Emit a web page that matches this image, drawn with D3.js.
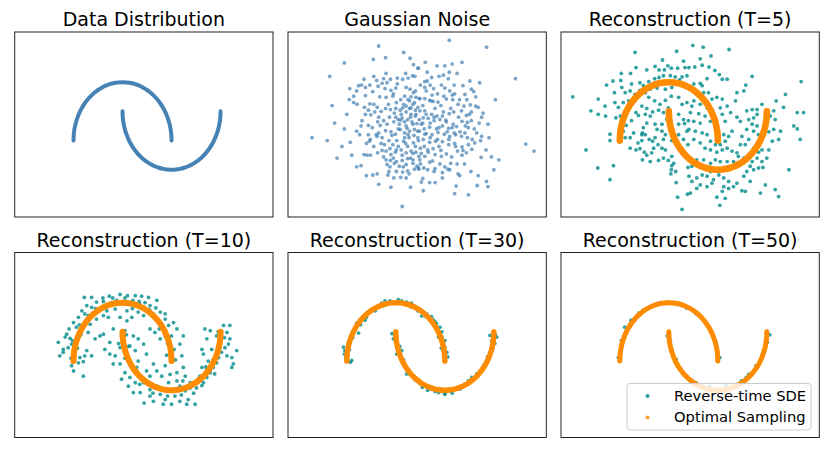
<!DOCTYPE html>
<html><head><meta charset="utf-8">
<script src="https://cdn.jsdelivr.net/npm/d3@7"></script>
<style>body{margin:0;background:#fff}svg{display:block}</style>
</head><body>
<svg id="c" width="830" height="453"></svg>
<script>
// ---- Data (units of the two-moons space) ----
const titles = ["Data Distribution","Gaussian Noise","Reconstruction (T=5)","Reconstruction (T=10)","Reconstruction (T=30)","Reconstruction (T=50)"];
const legendLabels = ["Reverse-time SDE","Optimal Sampling"];

const upperMoonX = [1.000,0.996,0.985,0.966,0.940,0.906,0.866,0.819,0.766,0.707,0.643,0.574,0.500,0.423,0.342,0.259,0.174,0.087,0.000,-0.087,-0.174,-0.259,-0.342,-0.423,-0.500,-0.574,-0.643,-0.707,-0.766,-0.819,-0.866,-0.906,-0.940,-0.966,-0.985,-0.996,-1.000];
const upperMoonY = [0.000,0.087,0.174,0.259,0.342,0.423,0.500,0.574,0.643,0.707,0.766,0.819,0.866,0.906,0.940,0.966,0.985,0.996,1.000,0.996,0.985,0.966,0.940,0.906,0.866,0.819,0.766,0.707,0.643,0.574,0.500,0.423,0.342,0.259,0.174,0.087,0.000];
const lowerMoonX = [0.000,0.004,0.015,0.034,0.060,0.094,0.134,0.181,0.234,0.293,0.357,0.426,0.500,0.577,0.658,0.741,0.826,0.913,1.000,1.087,1.174,1.259,1.342,1.423,1.500,1.574,1.643,1.707,1.766,1.819,1.866,1.906,1.940,1.966,1.985,1.996,2.000];
const lowerMoonY = [0.500,0.413,0.326,0.241,0.158,0.077,0.000,-0.074,-0.143,-0.207,-0.266,-0.319,-0.366,-0.406,-0.440,-0.466,-0.485,-0.496,-0.500,-0.496,-0.485,-0.466,-0.440,-0.406,-0.366,-0.319,-0.266,-0.207,-0.143,-0.074,0.000,0.077,0.158,0.241,0.326,0.413,0.500];

const noisePoints = [[-0.35,1.62],[0.16,1.51],[-0.21,1.42],[-0.46,1.39],[0.29,1.41],[-1.05,1.33],[-1.35,1.10],[-1.71,0.05],[-0.93,-0.03],[0.13,-1.13],[-0.71,-0.43],[-0.47,-0.59],[-0.38,-0.57],[0.36,1.30],[0.45,1.24],[0.34,1.11],[0.39,1.10],[0.25,1.07],[0.14,1.05],[0.03,1.07],[-0.11,1.05],[-0.25,1.06],[-0.39,1.03],[-0.94,0.89],[-0.76,0.94],[-0.70,0.95],[-0.62,0.91],[-0.53,0.95],[-0.36,0.93],[-0.28,0.98],[-0.18,0.99],[-0.22,0.89],[-0.10,0.86],[0.03,0.97],[0.21,0.91],[0.29,0.88],[0.36,0.82],[0.41,0.74],[0.31,0.75],[0.18,0.76],[-0.06,0.76],[-0.20,0.74],[-0.33,0.75],[-0.47,0.84],[-0.62,0.77],[-0.86,0.76],[-0.86,0.65],[-0.79,0.62],[-0.64,0.57],[-0.53,0.63],[-0.38,0.57],[-0.43,0.49],[-0.56,0.52],[-0.51,0.44],[-0.21,0.55],[-0.11,0.53],[0.01,0.65],[0.16,0.62],[0.28,0.68],[0.38,0.65],[0.45,0.57],[0.21,0.49],[0.11,0.45],[-0.03,0.47],[-0.13,0.40],[-0.25,0.34],[-0.37,0.32],[-0.32,0.26],[-0.18,0.28],[-0.04,0.32],[0.05,0.36],[0.18,0.32],[0.30,0.40],[0.41,0.45],[0.35,0.28],[0.23,0.21],[0.09,0.19],[-0.01,0.11],[-0.08,0.09],[-0.21,0.17],[-0.35,0.13],[-0.40,0.10],[-0.56,0.26],[-0.69,0.34],[-0.71,0.25],[-0.80,0.16],[-0.74,0.10],[-0.56,0.10],[-0.52,0.02],[-0.54,-0.01],[-0.38,0.07],[-0.23,-0.07],[-0.14,0.00],[-0.06,-0.07],[0.02,0.00],[0.16,-0.01],[0.27,0.05],[0.37,0.09],[0.45,0.16],[0.46,0.00],[0.36,-0.04],[0.24,-0.10],[0.11,-0.16],[0.01,-0.16],[-0.12,-0.14],[-0.20,-0.18],[-0.10,-0.24],[-0.01,-0.20],[0.13,-0.25],[0.21,-0.21],[0.31,-0.18],[0.41,-0.20],[0.47,-0.27],[0.35,-0.33],[0.24,-0.31],[0.13,-0.34],[0.01,-0.36],[-0.11,-0.34],[-0.20,-0.33],[-0.28,-0.17],[-0.37,-0.21],[-0.18,-0.41],[-0.03,-0.39],[0.07,-0.44],[0.21,-0.41],[0.35,-0.39],[0.43,-0.44],[0.38,-0.49],[0.24,-0.52],[0.14,-0.54],[0.01,-0.53],[-0.14,-0.53],[-0.16,-0.59],[-0.04,-0.64],[0.10,-0.63],[0.21,-0.64],[0.27,-0.57],[-0.65,-0.24],[-0.59,-0.25],[-0.52,-0.25],[0.46,-0.47],[0.14,0.56],[0.21,0.59],[0.31,0.56],[0.40,0.52],[0.09,0.52],[0.13,0.39],[0.24,0.36],[0.33,0.32],[0.43,0.29],[0.28,0.16],[0.18,0.13],[0.38,0.19],[0.48,0.36],[0.07,0.28],[0.21,0.25],[0.31,0.45],
[1.09,1.72],[1.85,1.60],[0.60,1.34],[1.35,1.34],[2.44,1.06],[2.03,0.70],[2.65,-0.06],[2.82,-0.18],[2.10,-0.33],[1.88,0.28],[1.48,-0.93],[1.20,-0.91],[0.56,-0.86],[0.52,-0.71],[0.69,-0.72],[0.80,-0.72],[0.95,-0.64],[1.23,-0.78],[1.66,-0.77],[1.88,-0.79],[1.85,-0.70],[1.68,-0.60],[1.53,-0.53],[1.27,-0.57],[1.06,-0.49],[0.78,-0.53],[0.57,-0.47],[0.47,-0.49],[0.69,-0.37],[0.90,-0.40],[1.12,-0.39],[0.84,1.28],[1.00,1.28],[1.15,1.31],[0.46,1.24],[0.64,1.17],[0.97,1.12],[1.09,1.17],[0.73,1.08],[0.59,1.01],[0.64,1.02],[1.07,1.06],[0.93,0.95],[1.19,0.95],[1.37,0.94],[1.51,1.02],[1.54,0.88],[1.71,0.99],[1.59,0.84],[1.41,0.79],[1.63,0.75],[1.15,0.78],[0.98,0.76],[0.74,0.78],[0.59,0.91],[0.77,0.89],[0.49,0.72],[0.59,0.72],[0.69,0.69],[0.76,0.67],[0.86,0.66],[1.03,0.71],[1.16,0.70],[1.27,0.62],[1.39,0.59],[1.52,0.61],[1.63,0.59],[1.68,0.57],[1.78,0.47],[1.75,0.40],[1.54,0.49],[1.44,0.43],[1.34,0.51],[1.18,0.49],[1.09,0.46],[0.97,0.49],[0.84,0.42],[0.73,0.45],[0.59,0.51],[0.49,0.51],[0.56,0.39],[0.66,0.38],[0.78,0.34],[0.90,0.36],[1.03,0.32],[1.17,0.28],[1.24,0.24],[1.35,0.33],[1.46,0.31],[1.54,0.34],[1.48,0.22],[1.41,0.13],[1.31,0.15],[1.19,0.13],[1.08,0.21],[0.95,0.25],[0.83,0.20],[0.69,0.23],[0.52,0.28],[0.48,0.16],[0.59,0.11],[0.74,0.10],[0.86,0.14],[0.99,0.11],[1.10,0.07],[1.22,0.10],[1.34,0.07],[1.46,0.05],[1.56,0.02],[1.65,0.13],[1.75,0.07],[1.73,0.00],[1.61,-0.04],[1.48,-0.07],[1.35,-0.11],[1.22,-0.10],[1.08,-0.07],[0.95,-0.02],[0.81,-0.01],[0.69,-0.03],[0.56,0.02],[0.50,-0.13],[0.65,-0.16],[0.76,-0.14],[0.92,-0.17],[1.03,-0.23],[1.14,-0.28],[1.26,-0.18],[1.37,-0.17],[1.44,-0.21],[0.93,-0.27],[0.80,-0.24],[0.59,-0.27],[0.49,-0.33],[1.84,-0.16],[1.95,-0.28],[1.74,-0.29],
[-0.45,0.62],[-0.30,0.50],[-0.15,0.62],[0.00,0.40],[0.10,0.70],[0.25,0.10],[0.40,-0.10],[0.55,0.60],[0.62,0.45],[0.70,0.05],[0.80,0.55],[0.88,0.22],[0.95,0.42],[1.05,0.15],[1.12,0.55],[1.20,-0.05],[1.28,0.40],[1.35,-0.25],[1.42,0.25],[0.58,-0.10],[0.66,-0.20],[0.75,-0.35],[0.88,-0.10],[1.00,-0.45],[0.62,0.85],[0.70,0.95],[0.85,0.80],[1.00,0.90],[1.10,0.85],[0.55,0.30],[0.45,0.05],[0.35,-0.22],[0.20,-0.05],[0.05,0.20],[-0.10,0.15],[-0.30,-0.05],[-0.45,-0.10],[-0.60,-0.05],[-0.25,-0.28],[-0.05,-0.30],[0.15,-0.45],[0.30,-0.30],[0.50,-0.40],[0.65,-0.50],[0.80,-0.48],[0.95,-0.55],[1.10,-0.50],[1.25,-0.40],[1.40,-0.40],[1.55,-0.15],[1.60,0.20],[1.50,0.45],[1.30,0.70],[1.20,0.80],[0.50,0.95],[0.40,0.85],[0.20,1.15],[0.00,0.90],[-0.20,1.15],[-0.45,1.10],[-0.65,1.05],[-0.80,0.85],[-0.95,0.70],[-1.00,0.45],[-1.05,0.20],[-1.10,-0.10],[-0.90,-0.25],[-0.80,-0.45],[-0.60,-0.60],[-0.35,-0.75],[-0.10,-0.80],[0.30,-0.80],[0.55,-0.65],[0.00,0.55],[0.10,0.35],[0.25,0.70],[0.35,0.62],[0.48,0.72],[0.58,0.20],[0.70,0.30],[0.78,0.40],[0.92,0.60],[1.02,0.35],[1.08,0.02],[1.15,0.22],[0.85,0.02],[0.62,0.12],[0.52,-0.22],[0.40,0.42],[0.28,0.55],[-0.05,0.80],[-0.35,0.40],[-0.48,0.22],[-0.62,0.45],[-0.28,0.05],[-0.12,-0.45],[0.05,-0.10],[0.18,0.05],[1.45,0.70],[1.70,0.30],[1.90,0.05],[2.00,-0.50],[1.30,-0.60],[-1.30,0.60],[-1.25,0.30],[-1.40,0.00],[-1.20,-0.30],[0.88,1.10],[1.25,1.15],[0.72,0.68]];

const t5Points = [[-0.69,1.51],[0.16,1.53],[-0.13,1.38],[0.30,1.36],[-0.02,1.28],[-0.67,1.25],[-0.45,1.21],[-0.28,1.27],[-0.20,1.21],[-0.09,1.21],[0.05,1.24],[0.18,1.24],[0.33,1.25],[-0.97,1.15],[-0.78,1.15],[-1.14,1.02],[-1.27,0.95],[-0.98,1.03],[-0.76,0.97],[-0.59,0.99],[-0.52,0.94],[-0.41,1.01],[-0.29,1.06],[-0.20,1.08],[-0.11,1.11],[0.03,1.11],[0.13,1.09],[0.27,1.09],[0.37,1.11],[0.22,1.04],[0.33,0.97],[0.06,0.91],[-0.07,0.88],[-0.24,0.90],[-0.38,0.88],[-0.48,0.82],[-0.59,0.86],[-0.69,0.79],[-0.79,0.85],[-0.89,0.82],[-0.96,0.91],[-1.11,0.82],[-1.44,0.71],[-1.10,0.65],[-0.93,0.65],[-1.03,0.57],[-1.30,0.59],[-1.59,0.51],[-1.44,0.45],[-1.29,0.42],[-1.08,0.39],[-0.99,0.42],[-0.82,0.68],[-0.41,0.74],[-0.29,0.68],[-0.18,0.62],[-0.07,0.69],[0.05,0.76],[0.20,0.74],[0.27,0.62],[0.37,0.65],[-0.01,0.56],[-0.11,0.48],[-0.21,0.52],[-0.33,0.49],[-0.45,0.55],[-0.55,0.59],[-0.67,0.48],[-0.62,0.43],[-0.48,0.45],[-0.38,0.42],[-0.28,0.28],[-0.14,0.28],[-0.04,0.36],[0.20,0.45],[0.30,0.36],[0.40,0.34],[0.20,0.28],[0.32,0.29],[0.37,0.16],[-1.96,0.75],[-0.87,0.26],[-0.93,0.16],[-0.76,0.34],[-0.45,0.30],[-0.52,0.22],[-0.54,0.13],[-0.48,0.10],[-0.40,0.02],[-0.28,0.05],[-0.14,0.16],[-0.24,0.19],[-0.07,0.10],[0.06,0.19],[0.20,0.10],[0.30,0.02],[0.39,-0.07],[0.20,-0.07],[0.06,0.00],[-0.11,0.02],[-0.22,-0.07],[-0.33,-0.01],[-0.55,0.00],[-0.63,-0.04],[-0.79,0.05],[-0.89,0.05],[-1.20,0.11],[-1.20,0.00],[-0.99,0.00],[-0.79,-0.13],[-0.67,-0.16],[-0.59,-0.14],[-0.50,-0.20],[-0.45,-0.25],[-0.54,-0.33],[-0.38,-0.36],[-0.21,-0.34],[-0.11,-0.30],[-0.01,-0.34],[0.10,-0.39],[0.06,-0.27],[-0.07,-0.16],[-0.14,-0.13],[-0.31,-0.13],[-0.35,-0.21],[-1.69,-0.16],[-1.45,-0.47],[-1.13,-0.43],[-1.20,-0.67],[0.06,-0.43],[0.05,-0.50],[0.04,-0.57],[0.14,-0.53],[0.15,-0.72],[0.39,-0.46],[0.18,-0.97],[0.38,-0.92],[0.27,-1.18],[-0.55,0.10],[-0.72,0.13],
[0.49,1.63],[0.70,1.60],[1.23,1.56],[0.86,1.45],[0.64,1.40],[0.68,1.29],[0.53,1.26],[0.82,1.26],[0.41,1.25],[0.94,1.20],[1.03,1.13],[1.09,1.05],[1.19,1.05],[0.78,1.06],[0.64,0.98],[0.51,0.97],[0.44,0.88],[0.68,0.94],[0.71,0.82],[0.57,0.79],[0.51,0.68],[0.81,0.82],[0.88,0.71],[0.98,0.74],[1.09,0.71],[1.70,1.10],[1.57,0.95],[1.39,0.82],[1.53,0.85],[1.36,0.68],[1.19,0.59],[1.05,0.56],[0.88,0.53],[0.78,0.56],[0.64,0.62],[0.47,0.59],[0.44,0.48],[0.61,0.46],[0.74,0.42],[0.51,0.33],[0.64,0.30],[0.85,0.33],[1.09,0.45],[1.26,0.48],[1.15,0.33],[1.39,0.40],[1.46,0.33],[1.29,0.16],[1.22,0.07],[1.12,0.10],[1.15,-0.01],[1.05,-0.07],[0.95,-0.07],[0.85,-0.01],[0.78,0.10],[0.68,0.13],[0.54,0.16],[0.41,0.19],[0.51,0.02],[0.64,-0.04],[0.74,-0.13],[0.85,-0.16],[0.98,-0.20],[1.09,-0.16],[1.19,-0.13],[1.29,-0.18],[1.39,-0.21],[1.46,-0.07],[1.56,-0.07],[1.49,0.07],[1.63,0.02],[1.73,-0.13],[1.83,-0.20],[1.90,-0.16],[2.04,-0.16],[2.00,-0.30],[1.90,-0.36],[1.80,-0.30],[1.70,-0.36],[1.63,-0.27],[1.53,-0.30],[1.42,-0.27],[1.32,-0.36],[1.19,-0.36],[1.05,-0.36],[0.95,-0.33],[0.85,-0.39],[0.71,-0.33],[0.57,-0.33],[0.44,-0.30],[0.47,-0.44],[0.41,-0.61],[0.47,-0.70],[0.57,-0.64],[0.68,-0.59],[0.78,-0.61],[0.85,-0.53],[0.91,-0.67],[1.02,-0.59],[1.12,-0.64],[1.22,-0.70],[1.12,-0.79],[1.22,-0.82],[1.09,-0.87],[0.98,-0.97],[1.15,-0.99],[1.04,-1.11],[0.88,-0.73],[0.78,-0.79],[0.64,-0.76],[0.57,-0.82],[0.44,-0.90],[1.32,-0.79],[1.49,-0.86],[1.56,-0.87],[1.39,-0.73],[1.53,-0.61],[1.66,-0.70],[1.59,-0.53],[1.73,-0.50],[1.83,-0.47],[1.92,-0.46],[1.66,-0.44],[1.97,-0.76],[1.87,-0.90],[2.17,-0.84],[2.24,-0.96],[2.45,-0.50],[2.70,1.01],[2.38,0.79],[2.19,0.68],[2.34,0.57],[2.14,0.51],[2.62,0.48],[2.75,0.48],[2.07,0.42],[2.17,0.36],[2.28,0.16],[2.24,0.02],[2.11,-0.01],[2.14,0.19],[2.04,0.15],[2.55,0.25],[2.62,0.20],[2.68,0.02],[1.90,0.62],[1.80,0.53],[1.80,0.45],[1.73,0.39],[1.70,0.28],[1.80,0.25],[1.73,0.16],[1.83,0.10],[1.94,0.13],[1.63,0.36],[1.59,0.51],[1.70,0.53],[1.59,0.19]];

const t10Points = [[-0.78,1.09],[-0.63,1.09],[-0.27,1.11],[-0.05,1.14],[0.10,1.12],[0.26,1.12],[0.39,1.11],[0.53,1.09],[0.70,1.04],[-0.53,1.01],[-0.39,1.02],[-0.22,1.00],[-0.12,1.04],[0.21,1.04],[0.34,1.02],[0.46,1.00],[0.56,0.95],[0.68,0.91],[0.77,0.84],[0.87,0.81],[-0.73,0.95],[-0.63,0.92],[-0.83,0.86],[-0.77,0.81],[-0.90,0.75],[-1.00,0.66],[-0.94,0.58],[-1.09,0.55],[-1.14,0.46],[-1.17,0.41],[-1.07,0.39],[-1.04,0.29],[-1.11,0.23],[-1.21,0.15],[-1.28,0.09],[-1.21,0.20],[-1.00,-0.17],[-0.80,-0.26],[-0.90,-0.03],[-0.80,-0.01],[-0.73,0.18],[-0.63,0.09],[-0.56,0.38],[-0.46,0.43],[-0.39,0.46],[-0.19,0.55],[0.09,0.69],[0.19,0.75],[0.32,0.84],[-0.05,0.75],[-0.29,0.75],[-0.39,0.78],[-0.53,0.72],[-0.66,0.63],[-0.70,0.49],[0.09,0.86],[-0.15,0.89],[-0.32,0.86],[-0.46,0.89],[0.29,0.95],[0.43,0.78],[0.63,0.81],[0.77,0.66],[0.87,0.72],[0.56,0.55],[0.66,0.49],[0.77,0.38],[0.87,0.43],[1.00,0.43],[1.11,0.55],[1.04,0.66],[0.94,0.61],[1.24,0.43],[1.17,0.29],[0.97,0.23],[1.21,0.09],[1.24,-0.11],[1.11,-0.20],[0.87,-0.08],[0.63,-0.05],[0.49,0.12],[0.43,0.29],[0.32,0.38],[0.22,0.43],[0.15,0.26],[0.26,0.18],[0.32,0.00],[0.29,-0.11],[0.36,-0.26],[0.49,-0.17],[0.56,-0.26],[0.70,-0.17],[0.80,-0.26],[0.97,-0.23],[0.94,-0.37],[0.70,-0.43],[0.56,-0.49],[0.43,-0.37],[0.26,-0.37],[0.15,-0.28],[0.05,-0.20],[-0.19,-0.05],[-0.05,-0.05],[-0.02,-0.31],[0.12,-0.43],[0.22,-0.54],[0.36,-0.54],[0.56,-0.60],[0.77,-0.57],[0.87,-0.66],[1.07,-0.60],[1.17,-0.69],[1.34,-0.66],[1.48,-0.74],[1.28,-0.51],[1.38,-0.46],[1.51,-0.46],[1.65,-0.37],[1.72,-0.28],[1.79,-0.20],[1.85,-0.11],[1.92,-0.03],[1.96,0.06],[2.02,0.15],[2.09,0.23],[2.16,0.29],[2.19,0.38],[2.13,0.49],[2.06,0.61],[2.19,0.61],[1.68,0.55],[1.79,0.52],[1.92,0.43],[1.72,0.38],[1.62,0.20],[1.65,0.12],[1.75,0.00],[1.72,-0.14],[1.62,-0.11],[1.58,-0.26],[1.51,-0.34],[1.38,-0.37],[1.23,-0.34],[1.28,-0.26],[2.23,0.06],[2.26,-0.05],[2.33,0.18],[2.23,-0.11],[2.13,0.09],[0.44,-0.72],[0.63,-0.69],[0.83,-0.74],[1.00,-0.74],[1.31,-0.74],[0.90,-0.51],[1.17,-0.43],[1.11,-0.34],[-0.87,0.06],[-0.77,0.09],[-0.97,0.09],[-1.04,-0.08],[-1.31,0.32],[-0.05,0.23],[0.05,0.15],[-0.15,0.09],[-0.02,0.43],[0.05,0.52],[-0.26,0.32],[-0.36,0.20],[-0.26,0.12],
[-1.05,0.05],[-0.92,0.22],[-1.02,0.35],[-0.85,0.45],[-0.88,0.62],[-0.70,0.78],[-0.55,0.90],[-0.40,1.08],[-0.20,1.08],[0.05,1.08],[0.20,0.90],[0.35,0.98],[0.55,0.88],[0.68,0.75],[0.75,0.55],[0.85,0.55],[0.92,0.30],[1.05,0.20],[0.90,0.10],[1.08,0.02],[0.08,0.45],[-0.08,0.30],[0.12,0.25],[0.05,0.05],[0.18,-0.10],[0.30,-0.18],[0.35,-0.40],[0.50,-0.35],[0.62,-0.55],[0.75,-0.45],[0.92,-0.60],[1.05,-0.52],[1.20,-0.58],[1.30,-0.48],[1.45,-0.55],[1.55,-0.30],[1.62,-0.42],[1.70,-0.10],[1.85,0.02],[1.82,0.20],[2.00,0.35],[1.95,0.50],[2.08,0.40],[1.88,-0.22]];

const t30Points = [[-1.07,0.24],[-1.04,0.18],[-1.05,0.12],[-0.97,0.30],[-0.93,0.35],[-0.91,0.44],[-0.87,0.50],[-0.83,0.55],[-0.78,0.61],[-0.80,0.65],[-0.73,0.71],[-0.66,0.76],[-0.59,0.82],[-0.53,0.87],[-0.46,0.90],[-0.36,0.94],[-0.22,1.03],[-0.12,1.03],[-0.05,1.01],[0.12,1.03],[0.22,1.01],[0.32,0.99],[0.39,0.94],[0.49,0.88],[0.56,0.84],[0.63,0.81],[0.73,0.76],[0.77,0.70],[0.83,0.64],[0.90,0.58],[0.94,0.50],[0.94,0.41],[0.97,0.30],[1.00,0.24],[1.04,0.15],[1.06,0.07],[-0.93,-0.02],[-0.90,0.01],[-0.76,0.48],[-0.63,0.70],[-0.29,0.99],[0.53,0.77],[0.80,0.67],[0.87,0.41],[1.00,0.35],[-0.08,0.47],[-0.05,0.38],[0.02,0.30],[0.05,0.21],[0.09,0.09],[0.12,0.01],[0.19,-0.08],[0.26,-0.15],[0.32,-0.25],[0.39,-0.32],[0.49,-0.38],[0.60,-0.42],[0.73,-0.48],[0.87,-0.54],[1.00,-0.55],[1.11,-0.51],[1.21,-0.48],[1.31,-0.48],[1.41,-0.39],[1.48,-0.34],[1.55,-0.28],[1.65,-0.22],[1.75,-0.14],[1.82,-0.05],[1.87,0.07],[1.92,0.15],[1.96,0.24],[2.02,0.30],[1.96,0.35],[1.92,0.44],[1.99,0.50],[2.06,0.41],[0.22,-0.22],[0.54,-0.45],[0.80,-0.52],[1.00,-0.57],[1.68,-0.25],[1.79,-0.08],[0.12,0.18],[0.02,0.12],
[-1.02,0.05],[-0.95,0.20],[-0.88,0.40],[-0.72,0.62],[-0.60,0.75],[-0.42,0.86],[-0.25,0.95],[0.05,1.05],[0.30,0.93],[0.45,0.86],[0.62,0.76],[0.85,0.52],[0.93,0.22],[0.98,0.10],[-0.02,0.44],[0.08,0.25],[0.16,0.02],[0.28,-0.22],[0.45,-0.32],[0.65,-0.50],[0.92,-0.49],[1.15,-0.55],[1.35,-0.44],[1.52,-0.35],[1.72,-0.18],[1.85,0.00],[1.98,0.22],[2.03,0.45]];

const t50Points = [[-1.03,0.06],[-0.97,0.35],[-0.90,0.58],[-0.77,0.70],[-0.61,0.82],[-0.39,0.93],[-0.19,0.99],[-0.02,1.01],[0.17,0.97],[0.36,0.91],[0.56,0.81],[0.75,0.66],[0.88,0.49],[0.97,0.23],[1.04,0.06],[-0.03,0.43],[0.03,0.35],[0.07,0.19],[0.15,0.03],[0.24,-0.13],[0.36,-0.27],[0.55,-0.37],[0.83,-0.44],[1.17,-0.42],[1.48,-0.34],[1.63,-0.23],[1.78,-0.08],[1.90,0.10],[2.01,0.32],[2.06,0.45],[1.58,-0.28],[-0.53,0.87]];

// ---- Layout ----
const xDomain = [-2.2, 3.07], yDomain = [-1.31, 1.86];
const panels = [
  {x:14.7, y:32},{x:288, y:32},{x:561, y:32},
  {x:14.7, y:252.5},{x:288, y:252.5},{x:561, y:252.5}
];
const PW = 258.3, PH = 185;
const C = {blue:"#4682b4", teal:"#008b8b", orange:"#ff8c00"};

const svg = d3.select("#c");
const upper = upperMoonX.map((v,i)=>[v, upperMoonY[i]]);
const lower = lowerMoonX.map((v,i)=>[v, lowerMoonY[i]]);
const curvePts = upper.concat(lower);

panels.forEach((p, i) => {
  const g = svg.append("g").attr("transform", `translate(${p.x},${p.y})`);
  const x = d3.scaleLinear().domain(xDomain).range([0, PW]);
  const y = d3.scaleLinear().domain(yDomain).range([PH, 0]);
  g.append("clipPath").attr("id","cp"+i).append("rect").attr("width",PW).attr("height",PH);
  const body = g.append("g").attr("clip-path",`url(#cp${i})`);
  const line = d3.line().x(d=>x(d[0])).y(d=>y(d[1])).curve(d3.curveCatmullRom);

  if (i === 0) {
    [upper, lower].forEach(arr => body.append("path").attr("d", line(arr))
      .attr("fill","none").attr("stroke",C.blue).attr("stroke-width",4).attr("stroke-linecap","round"));
  } else if (i === 1) {
    body.selectAll("circle").data(noisePoints).join("circle")
      .attr("cx",d=>x(d[0])).attr("cy",d=>y(d[1])).attr("r",1.9)
      .attr("fill",C.blue).attr("fill-opacity",0.72);
  } else {
    const pts = [null,null,t5Points,t10Points,t30Points,t50Points][i];
    body.append("g").selectAll("circle").data(pts).join("circle")
      .attr("cx",d=>x(d[0])).attr("cy",d=>y(d[1])).attr("r",1.9)
      .attr("fill",C.teal).attr("fill-opacity",0.8);
    const ow = [0,0,3.3,3.0,2.7,2.5][i];
    const og = body.append("g");
    [upper, lower].forEach(arr => og.append("path").attr("d", line(arr))
      .attr("fill","none").attr("stroke",C.orange).attr("stroke-width",ow*2).attr("stroke-linecap","round"));
    og.selectAll("circle").data(curvePts).join("circle")
      .attr("cx",d=>x(d[0])).attr("cy",d=>y(d[1])).attr("r",ow*0.9)
      .attr("fill",C.orange);
  }

  g.append("rect").attr("width",PW).attr("height",PH)
    .attr("fill","none").attr("stroke","#222").attr("stroke-width",1);
  g.append("text").attr("x",PW/2).attr("y",-6).attr("text-anchor","middle")
    .attr("font-family","DejaVu Sans").attr("font-size","19px").attr("fill","#000")
    .text(titles[i]);

  if (i === 5) {
    const lg = svg.append("g");
    lg.append("rect").attr("x",627).attr("y",383.5).attr("width",184).attr("height",46.5)
      .attr("rx",3).attr("fill","#fff").attr("fill-opacity",0.8).attr("stroke","#ccc");
    [C.teal, C.orange].forEach((col, k) => {
      lg.append("circle").attr("cx",647.5).attr("cy",396 + k*21.5).attr("r",2.1)
        .attr("fill",col).attr("fill-opacity",0.8);
      lg.append("text").attr("x",674).attr("y",400.8 + k*21.5)
        .attr("font-family","DejaVu Sans").attr("font-size","14.7px").attr("fill","#000")
        .text(legendLabels[k]);
    });
  }
});
</script>
</body></html>
